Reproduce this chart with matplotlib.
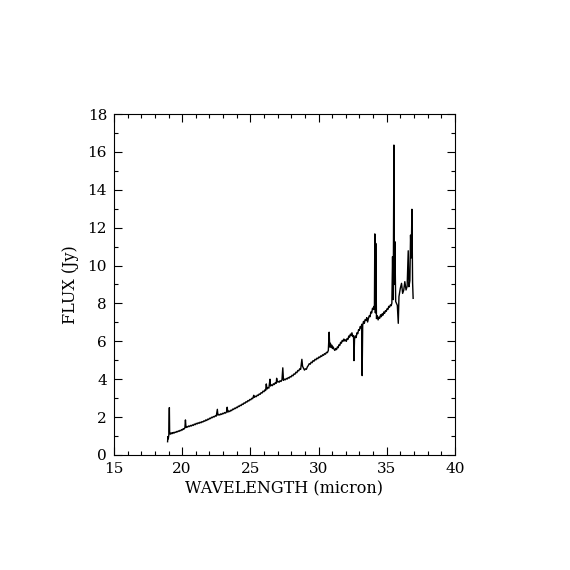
import matplotlib
matplotlib.use("Agg")
import matplotlib.pyplot as plt
from matplotlib.ticker import MultipleLocator

wavelength = [
    18.93, 18.95, 18.98, 19.02, 19.06, 19.08, 19.12, 19.16, 19.20, 19.25,
    19.30, 19.36, 19.42, 19.48, 19.54, 19.60, 19.66, 19.72, 19.78, 19.84,
    19.90, 19.96, 20.02, 20.08, 20.14, 20.20, 20.24, 20.28, 20.34, 20.40,
    20.47, 20.54, 20.61, 20.68, 20.75, 20.82, 20.89, 20.96, 21.03, 21.10,
    21.17, 21.24, 21.31, 21.38, 21.45, 21.52, 21.59, 21.66, 21.73, 21.80,
    21.87, 21.94, 22.01, 22.08, 22.15, 22.22, 22.29, 22.36, 22.43, 22.50,
    22.58, 22.62, 22.69, 22.76, 22.83, 22.90, 22.97, 23.04, 23.11, 23.18,
    23.25, 23.30, 23.35, 23.42, 23.49, 23.56, 23.63, 23.70, 23.77, 23.84,
    23.91, 23.98, 24.05, 24.12, 24.19, 24.26, 24.33, 24.40, 24.47, 24.54,
    24.61, 24.68, 24.75, 24.82, 24.89, 24.96, 25.03, 25.10, 25.17, 25.25,
    25.30, 25.37, 25.44, 25.51, 25.58, 25.65, 25.72, 25.79, 25.86, 25.93,
    26.00, 26.07, 26.12, 26.17, 26.22, 26.29, 26.36, 26.44, 26.48, 26.55,
    26.62, 26.69, 26.76, 26.83, 26.90, 26.93, 26.97, 27.04, 27.11, 27.18,
    27.25, 27.32, 27.38, 27.43, 27.50, 27.57, 27.64, 27.71, 27.78, 27.85,
    27.92, 27.99, 28.06, 28.13, 28.20, 28.27, 28.34, 28.41, 28.48, 28.55,
    28.62, 28.69, 28.78, 28.83, 28.90, 28.97, 29.04, 29.11, 29.18, 29.25,
    29.32, 29.39, 29.46, 29.53, 29.60, 29.67, 29.74, 29.81, 29.88, 29.95,
    30.02, 30.09, 30.16, 30.23, 30.30, 30.37, 30.44, 30.51, 30.58, 30.65,
    30.72, 30.78, 30.82, 30.87, 30.92, 30.97, 31.02, 31.08, 31.14, 31.20,
    31.26, 31.32, 31.38, 31.44, 31.50, 31.56, 31.62, 31.68, 31.74, 31.80,
    31.86, 31.92, 31.98, 32.04, 32.10, 32.16, 32.22, 32.28, 32.34, 32.40,
    32.45, 32.52, 32.57, 32.60, 32.64, 32.70, 32.76, 32.82, 32.88, 32.94,
    33.00, 33.06, 33.12, 33.17, 33.20, 33.24, 33.30, 33.36, 33.42, 33.48,
    33.54, 33.60, 33.66, 33.72, 33.78, 33.84, 33.90, 33.96, 34.02, 34.08,
    34.10, 34.13, 34.17, 34.20, 34.25, 34.31, 34.37, 34.43, 34.49, 34.55,
    34.61, 34.67, 34.73, 34.79, 34.85, 34.91, 34.97, 35.03, 35.09, 35.15,
    35.21, 35.27, 35.33, 35.38, 35.43, 35.48, 35.53, 35.57, 35.60, 35.66,
    35.72, 35.78, 35.85, 35.90, 36.00, 36.09, 36.17, 36.25, 36.33, 36.42,
    36.50, 36.58, 36.63, 36.70, 36.75, 36.80, 36.85, 36.90, 36.94,
]

flux = [
    0.70, 0.97, 0.85, 1.05, 2.50, 1.20, 1.10, 1.15, 1.12, 1.17,
    1.13, 1.19, 1.16, 1.21, 1.19, 1.24, 1.22, 1.27, 1.25, 1.30,
    1.28, 1.34, 1.32, 1.39, 1.37, 1.44, 1.85, 1.45, 1.50, 1.47,
    1.53, 1.50, 1.56, 1.53, 1.59, 1.56, 1.63, 1.60, 1.67, 1.64,
    1.70, 1.67, 1.73, 1.70, 1.76, 1.74, 1.80, 1.78, 1.85, 1.82,
    1.89, 1.87, 1.94, 1.92, 1.99, 1.97, 2.03, 2.01, 2.07, 2.05,
    2.41, 2.10, 2.14, 2.11, 2.17, 2.14, 2.20, 2.18, 2.24, 2.21,
    2.27, 2.52, 2.26, 2.32, 2.29, 2.36, 2.34, 2.42, 2.40, 2.47,
    2.45, 2.52, 2.50, 2.58, 2.56, 2.63, 2.61, 2.69, 2.67, 2.75,
    2.73, 2.81, 2.79, 2.87, 2.85, 2.93, 2.91, 2.99, 2.97, 3.15,
    3.04, 3.10, 3.08, 3.16, 3.14, 3.22, 3.20, 3.29, 3.27, 3.37,
    3.34, 3.44, 3.40, 3.75, 3.48, 3.56, 3.53, 4.00, 3.64, 3.70,
    3.66, 3.76, 3.72, 3.82, 3.78, 4.05, 3.85, 3.88, 3.84, 3.92,
    3.88, 3.97, 4.60, 3.94, 4.00, 3.97, 4.04, 4.01, 4.09, 4.06,
    4.14, 4.12, 4.21, 4.18, 4.28, 4.26, 4.37, 4.34, 4.46, 4.44,
    4.55, 4.52, 5.05, 4.68, 4.58, 4.48, 4.55, 4.52, 4.65, 4.72,
    4.82, 4.79, 4.90, 4.87, 4.98, 4.95, 5.05, 5.02, 5.11, 5.08,
    5.17, 5.14, 5.23, 5.20, 5.29, 5.26, 5.35, 5.32, 5.42, 5.40,
    5.52, 6.48, 5.70, 5.90, 5.68, 5.80, 5.62, 5.70, 5.58, 5.52,
    5.62, 5.56, 5.70, 5.66, 5.82, 5.78, 5.95, 5.90, 6.05, 6.00,
    6.12, 6.02, 6.08, 6.00, 6.15, 6.10, 6.28, 6.22, 6.38, 6.30,
    6.45, 6.25, 6.30, 4.98, 6.10, 6.28, 6.20, 6.45, 6.40, 6.62,
    6.58, 6.78, 6.70, 6.90, 4.19, 6.85, 7.05, 6.95, 7.15, 7.10,
    7.25, 7.02, 7.20, 7.35, 7.30, 7.55, 7.50, 7.75, 7.68, 7.85,
    7.70, 11.67, 7.50, 11.17, 7.20, 7.35, 7.13, 7.28, 7.22, 7.40,
    7.30, 7.45, 7.38, 7.55, 7.48, 7.62, 7.58, 7.72, 7.68, 7.85,
    7.80, 7.92, 7.88, 8.02, 10.47, 8.20, 16.36, 9.00, 11.26, 8.10,
    8.00, 7.90, 6.95, 8.36, 8.80, 9.06, 8.53, 8.70, 9.15, 8.71,
    8.90, 10.78, 8.88, 9.20, 11.61, 10.40, 12.97, 9.10, 8.27,
]

x_label = "WAVELENGTH (micron)"
y_label = "FLUX (Jy)"

plt.rcParams['font.family'] = ['DejaVu Serif']

fig = plt.figure(figsize=(5.7, 5.7), dpi=100)
ax = fig.add_axes([0.2, 0.2018, 0.598, 0.5982])
ax.plot(wavelength, flux, color='black', linewidth=1.0)

ax.set_xlim(15, 40)
ax.set_ylim(0, 18)
ax.xaxis.set_major_locator(MultipleLocator(5))
ax.xaxis.set_minor_locator(MultipleLocator(1))
ax.yaxis.set_major_locator(MultipleLocator(2))
ax.yaxis.set_minor_locator(MultipleLocator(1))
ax.tick_params(which='both', direction='in', top=True, right=True,
               width=0.8, colors='black', labelsize=11)
ax.tick_params(which='major', length=5.5, pad=5)
ax.tick_params(which='minor', length=2.8)
for s in ax.spines.values():
    s.set_linewidth(0.8)

ax.set_xlabel(x_label, fontsize=11.5, labelpad=3)
ax.set_ylabel(y_label, fontsize=11.5, labelpad=6)

fig.savefig("out.png", dpi=100, facecolor='white')
